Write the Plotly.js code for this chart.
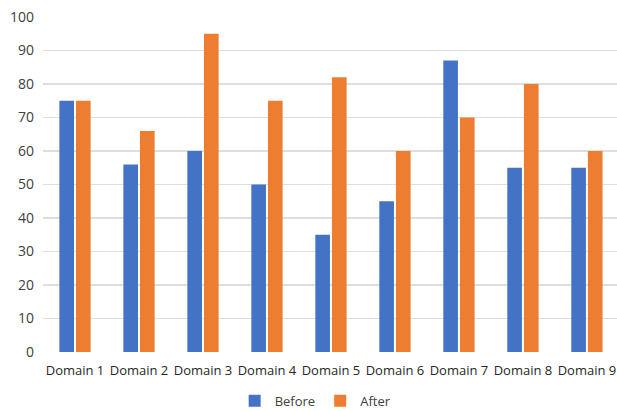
<!DOCTYPE html>
<html>
<head>
<meta charset="utf-8">
<script src="https://cdn.plot.ly/plotly-3.0.1.min.js"></script>
<style>
  html, body { margin: 0; padding: 0; background: #ffffff; }
  #chart { width: 617px; height: 411px; }
</style>
</head>
<body>
<div id="chart"></div>
<script>
// Scores per domain, measured before and after
const domains = ['Domain 1', 'Domain 2', 'Domain 3', 'Domain 4', 'Domain 5',
                 'Domain 6', 'Domain 7', 'Domain 8', 'Domain 9'];
const beforeScores = [75, 56, 60, 50, 35, 45, 87, 55, 55];
const afterScores  = [75, 66, 95, 75, 82, 60, 70, 80, 60];
const yTicks = [0, 10, 20, 30, 40, 50, 60, 70, 80, 90, 100];

const traces = [
  { type: 'bar', name: 'Before', x: domains, y: beforeScores,
    marker: { color: '#4472C4' }, hoverinfo: 'x+y+name' },
  { type: 'bar', name: 'After', x: domains, y: afterScores,
    marker: { color: '#ED7D31' }, hoverinfo: 'x+y+name' }
];

const layout = {
  width: 617, height: 411,
  margin: { l: 43, r: 0, t: 17, b: 59, pad: 0, autoexpand: false },
  paper_bgcolor: '#ffffff', plot_bgcolor: '#ffffff',
  font: { family: 'Open Sans, Liberation Sans, sans-serif', size: 12, color: '#404040' },
  barmode: 'group',
  bargap: 0.48,
  bargroupgap: 0.12,
  showlegend: true,
  legend: {
    orientation: 'h', x: 0.475, xanchor: 'center',
    yref: 'container', y: 0.025, yanchor: 'middle',
    font: { size: 13, color: '#404040' }, itemwidth: 30, traceorder: 'normal'
  },
  xaxis: {
    range: [-0.5, 8.47], showgrid: false, zeroline: false, showline: false,
    ticks: '', ticklabelstandoff: 9,
    tickfont: { size: 13, color: '#262626' }, automargin: false
  },
  yaxis: {
    range: [0, 100], tickvals: yTicks, showgrid: true, gridcolor: '#dedede', gridwidth: 1.5,
    zeroline: false, showline: false, ticks: '', ticklabelstandoff: 8,
    tickfont: { size: 14, color: '#404040' }, automargin: false
  }
};

Plotly.newPlot('chart', traces, layout, { displayModeBar: false, staticPlot: true });
</script>
</body>
</html>
